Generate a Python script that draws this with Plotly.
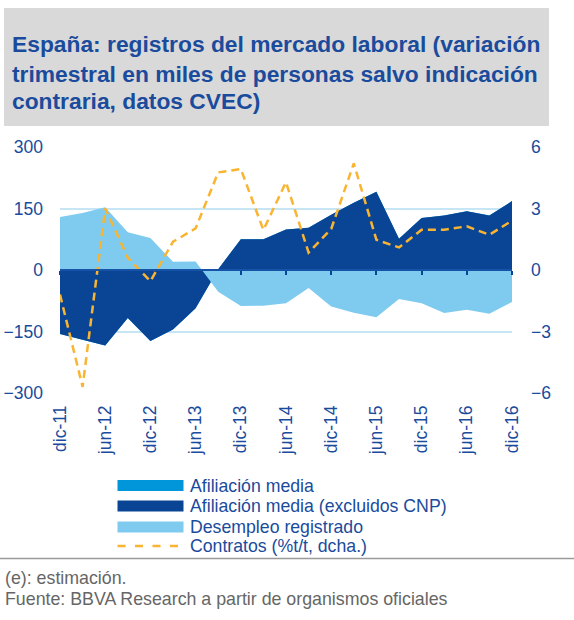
import plotly.graph_objects as go

# ---------------- data ----------------
trimestres = ["dic-11", "mar-12", "jun-12", "sep-12", "dic-12", "mar-13", "jun-13",
              "sep-13", "dic-13", "mar-14", "jun-14", "sep-14", "dic-14", "mar-15",
              "jun-15", "sep-15", "dic-15", "mar-16", "jun-16", "sep-16", "dic-16"]

afiliacion_media = [-156, -170, -184, -117, -173, -145, -93, 2, 75, 75, 99,
                    103, 135, 164, 191, 76, 127, 133, 143, 133, 168]
afiliacion_excl_cnp = [-156, -170, -184, -117, -173, -145, -93, 2, 75, 75, 99,
                       103, 135, 164, 191, 76, 127, 133, 143, 133, 168]
desempleo_registrado = [129, 139, 153, 92, 78, 20, 21, -53, -88, -87, -81,
                        -44, -89, -104, -115, -71, -81, -105, -97, -107, -78]
contratos = [-1.2, -5.7, 3.0, 0.6, -0.55, 1.38, 2.03, 4.76, 4.93, 1.95, 4.28,
             0.85, 2.0, 5.2, 1.47, 1.1, 1.96, 1.96, 2.13, 1.72, 2.41]

left_ticks = [-300, -150, 0, 150, 300]
right_ticks = [-6, -3, 0, 3, 6]
label_ticks = trimestres[::2]

names = ["Afiliación media", "Afiliación media (excluidos CNP)",
         "Desempleo registrado", "Contratos (%t/t, dcha.)"]
title_lines = ["España: registros del mercado laboral (variación",
               "trimestral en miles de personas salvo indicación",
               "contraria, datos CVEC)"]
footer_lines = ["(e): estimación.",
                "Fuente: BBVA Research a partir de organismos oficiales"]

# ---------------- style ----------------
W, H = 574, 620
ML, MT = 60, 147
MR = W - 512
MB = H - 393
PW, PH = W - ML - MR, H - MT - MB

C_AFIL = "#0096D9"
C_CNP = "#0A4595"
C_DESEMP = "#7FCBEF"
C_CONTR = "#F9B431"
C_TEXT = "#1A4B9C"
C_GRID = "#C6E6F6"
FONT = "Liberation Sans, Arial, sans-serif"


def px_x(p):
    """page x pixel -> paper fraction"""
    return (p - ML) / PW


def px_y(p):
    """page y pixel -> paper fraction"""
    return (MT + PH - p) / PH


fig = go.Figure()

series = [(afiliacion_media, C_AFIL, names[0]),
          (afiliacion_excl_cnp, C_CNP, names[1]),
          (desempleo_registrado, C_DESEMP, names[2])]
for vals, col, nm in series:
    fig.add_trace(go.Scatter(x=trimestres, y=vals, mode="lines", fill="tozeroy",
                             fillcolor=col, line=dict(width=0, color=col),
                             name=nm, showlegend=False))

fig.add_trace(go.Scatter(x=trimestres, y=contratos, mode="lines", name=names[3],
                         line=dict(color=C_CONTR, width=2.5, dash="8px,5px"),
                         xaxis="x2", yaxis="y2", showlegend=False))

fig.update_layout(
    width=W, height=H,
    margin=dict(l=ML, r=MR, t=MT, b=MB, pad=0, autoexpand=False),
    paper_bgcolor="white", plot_bgcolor="white",
    font=dict(family=FONT, color=C_TEXT, size=17),
    showlegend=False,
    xaxis=dict(type="category", range=[0, 20], tickmode="array",
               tickvals=label_ticks, ticktext=label_ticks, tickangle=-90,
               showgrid=False, showline=False, zeroline=False, ticks="",
               ticklabelstandoff=8, tickfont=dict(size=17.5, color=C_TEXT)),
    xaxis2=dict(type="category", overlaying="x", anchor="free", position=0.5,
                range=[0, 20], tickmode="array", tickvals=label_ticks,
                showticklabels=False, ticks="outside", ticklen=4, tickwidth=2,
                tickcolor=C_CNP, showline=True, linecolor="#1652A6", linewidth=2,
                showgrid=False, zeroline=False, layer="above traces"),
    yaxis=dict(range=[-300, 300], tickmode="array", tickvals=left_ticks,
               showgrid=True, gridcolor=C_GRID, gridwidth=1.5, zeroline=False,
               ticks="", ticklabelstandoff=16, tickfont=dict(size=17.5, color=C_TEXT)),
    yaxis2=dict(range=[-6, 6], tickmode="array", tickvals=right_ticks,
                overlaying="y", side="right", showgrid=False, zeroline=False,
                ticks="", ticklabelstandoff=18, tickfont=dict(size=17.5, color=C_TEXT)),
)

# title box and title
fig.add_shape(type="rect", xref="paper", yref="paper",
              x0=px_x(4), x1=px_x(549), y0=px_y(126), y1=px_y(8),
              fillcolor="#D9D9D9", line=dict(width=0), layer="below")
for line, yc in zip(title_lines, [44.4, 73.7, 101.2]):
    fig.add_annotation(xref="paper", yref="paper", x=px_x(10), y=px_y(yc),
                       xanchor="left", yanchor="middle", showarrow=False,
                       text="<b>" + line + "</b>",
                       font=dict(family=FONT, size=22.8, color=C_TEXT))

# legend (drawn manually to match the compact layout)
row_y = [485.5, 506, 527, 546]
for (vals, col, nm), yc in zip(series, row_y[:3]):
    fig.add_shape(type="rect", xref="paper", yref="paper",
                  x0=px_x(117.5), x1=px_x(183.5), y0=px_y(yc + 5.5), y1=px_y(yc - 5.5),
                  fillcolor=col, line=dict(width=0))
fig.add_shape(type="line", xref="paper", yref="paper",
              x0=px_x(117.5), x1=px_x(183.5), y0=px_y(row_y[3]), y1=px_y(row_y[3]),
              line=dict(color=C_CONTR, width=2.5, dash="8px,9.5px"))
for nm, yc in zip(names, row_y):
    fig.add_annotation(xref="paper", yref="paper", x=px_x(188), y=px_y(yc),
                       xanchor="left", yanchor="middle", showarrow=False, text=nm,
                       font=dict(family=FONT, size=17.7, color=C_TEXT))

# separator and footer
fig.add_shape(type="line", xref="paper", yref="paper",
              x0=px_x(0), x1=px_x(574), y0=px_y(558.5), y1=px_y(558.5),
              line=dict(color="#9A9A9A", width=1.5))
for line, yc in zip(footer_lines, [578, 599]):
    fig.add_annotation(xref="paper", yref="paper", x=px_x(3), y=px_y(yc),
                       xanchor="left", yanchor="middle", showarrow=False,
                       text=line, font=dict(family=FONT, size=17.8, color="#666666"))

# the page's default 8px body margin would shift the figure; remove it
fig.write_html("out.html", config={"displayModeBar": False},
               post_script="document.body.style.margin='0px';")
